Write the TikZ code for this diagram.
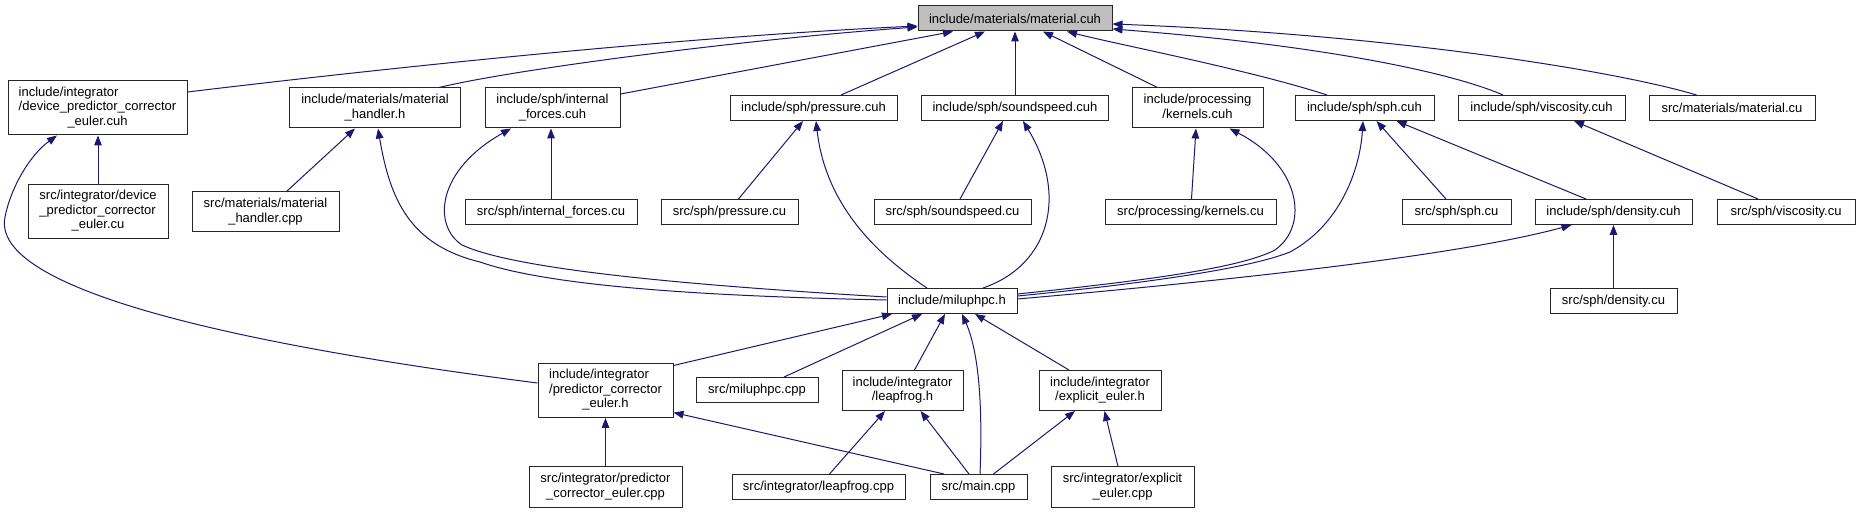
\documentclass[tikz,border=0pt]{standalone}
\usepackage{fontspec}
\setmainfont{Liberation Sans}
\usetikzlibrary{arrows.meta,calc}
\definecolor{edgeblue}{HTML}{191970}
\definecolor{rootfill}{HTML}{BFBFBF}
\newcommand\lbl[2]{\begin{tabular}{@{}l@{}}#1\multicolumn{1}{@{}c@{}}{#2}\end{tabular}}
\tikzset{
  box/.style={draw=black!85, line width=0.5pt, rectangle, inner sep=0pt, fill=white,
    font=\fontsize{6.5pt}{7.25pt}\selectfont},
  rootbox/.style={box, fill=rootfill},
  arr/.style={draw=edgeblue, line width=0.5pt, -{Triangle[length=5pt,width=3.8pt]}},
}
\begin{document}
\begin{tikzpicture}[x=0.5pt, y=-0.5pt]
\useasboundingbox (0,0) rectangle (1860,513);
\fill[white] (0,0) rectangle (1860,513);

% row 0
\node[rootbox, minimum width=97pt, minimum height=12.5pt] (mat) at (1015,18.5) {include/materials/material.cuh};
% row 1
\node[box, minimum width=89.5pt, minimum height=27pt] (dpceh) at (97.5,108) {\lbl{include/integrator\\/device\_predictor\_corrector\\}{\_euler.cuh}};
\node[box, minimum width=85.5pt, minimum height=20pt] (mhh) at (375,108) {\lbl{include/materials/material\\}{\_handler.h}};
\node[box, minimum width=67.5pt, minimum height=20pt] (ifh) at (552.5,108) {\lbl{include/sph/internal\\}{\_forces.cuh}};
\node[box, minimum width=83.5pt, minimum height=12.5pt] (prh) at (813.5,108) {include/sph/pressure.cuh};
\node[box, minimum width=93.5pt, minimum height=12.5pt] (ssh) at (1015,108) {include/sph/soundspeed.cuh};
\node[box, minimum width=65.5pt, minimum height=20pt] (kh) at (1197.5,108) {\lbl{include/processing\\}{/kernels.cuh}};
\node[box, minimum width=69.5pt, minimum height=12.5pt] (sphh) at (1364.5,108) {include/sph/sph.cuh};
\node[box, minimum width=83.5pt, minimum height=12.5pt] (vh) at (1541.5,108) {include/sph/viscosity.cuh};
\node[box, minimum width=83pt, minimum height=12.5pt] (matcu) at (1732,108) {src/materials/material.cu};
% row 2
\node[box, minimum width=70pt, minimum height=27pt] (dpcecu) at (98,211.5) {\lbl{src/integrator/device\\\_predictor\_corrector\\}{\_euler.cu}};
\node[box, minimum width=73.5pt, minimum height=20pt] (mhcpp) at (265.5,212) {\lbl{src/materials/material\\}{\_handler.cpp}};
\node[box, minimum width=86pt, minimum height=12.5pt] (ifcu) at (551,212) {src/sph/internal\_forces.cu};
\node[box, minimum width=68.5pt, minimum height=12.5pt] (prcu) at (729.5,212) {src/sph/pressure.cu};
\node[box, minimum width=78.5pt, minimum height=12.5pt] (sscu) at (952.5,212) {src/sph/soundspeed.cu};
\node[box, minimum width=85.5pt, minimum height=12.5pt] (kcu) at (1190.5,212) {src/processing/kernels.cu};
\node[box, minimum width=54.5pt, minimum height=12.5pt] (sphcu) at (1456.5,212) {src/sph/sph.cu};
\node[box, minimum width=78.5pt, minimum height=12.5pt] (dh) at (1613.5,212) {include/sph/density.cuh};
\node[box, minimum width=69pt, minimum height=12.5pt] (vcu) at (1786,212) {src/sph/viscosity.cu};
% row 3
\node[box, minimum width=65pt, minimum height=12.5pt] (mil) at (952,301) {include/miluphpc.h};
\node[box, minimum width=63.5pt, minimum height=12.5pt] (dcu) at (1613.5,301) {src/sph/density.cu};
% row 4
\node[box, minimum width=67.5pt, minimum height=27pt] (pceh) at (605.5,390.5) {\lbl{include/integrator\\/predictor\_corrector\\}{\_euler.h}};
\node[box, minimum width=61pt, minimum height=12.5pt] (milcpp) at (757,390) {src/miluphpc.cpp};
\node[box, minimum width=60.5pt, minimum height=20pt] (lfh) at (902.5,390.5) {\lbl{include/integrator\\}{/leapfrog.h}};
\node[box, minimum width=61pt, minimum height=20pt] (eeh) at (1100,390.5) {\lbl{include/integrator\\}{/explicit\_euler.h}};
% row 5
\node[box, minimum width=76.5pt, minimum height=20pt] (pcecpp) at (605.5,487) {\lbl{src/integrator/predictor\\}{\_corrector\_euler.cpp}};
\node[box, minimum width=86.5pt, minimum height=12.5pt] (lfcpp) at (818.5,487) {src/integrator/leapfrog.cpp};
\node[box, minimum width=48.5pt, minimum height=12.5pt] (main) at (978.5,487) {src/main.cpp};
\node[box, minimum width=71.5pt, minimum height=20pt] (eecpp) at (1122.5,487) {\lbl{src/integrator/explicit\\}{\_euler.cpp}};

% edges into material.cuh
\draw[arr] ($(dpceh.east)+(0,-16)$) .. controls (420,64) and (700,36) .. ($(mat.west)+(0,7.5)$);
\draw[arr] ($(mhh.north)+(64,0)$) .. controls (520,68) and (760,38) .. ($(mat.west)+(0,8.5)$);
\draw[arr] ($(ifh.east)+(0,-14)$) -- ($(mat.south)+(-62,0)$);
\draw[arr] ($(prh.north)+(27.5,0)$) -- ($(mat.south)+(-30,0)$);
\draw[arr] (ssh.north) -- (mat.south);
\draw[arr] ($(kh.north)+(-40,0)$) -- ($(mat.south)+(28,0)$);
\draw[arr] ($(sphh.north)+(-37.5,0)$) .. controls (1250,70) and (1120,45) .. ($(mat.south)+(52,0)$);
\draw[arr] ($(vh.north)+(-38.5,0)$) .. controls (1450,72) and (1320,45) .. ($(mat.east)+(0,10.5)$);
\draw[arr] ($(matcu.north)+(-35.5,0)$) .. controls (1620,72) and (1400,35) .. ($(mat.east)+(0,5.5)$);

% device predictor corrector
\draw[arr] (dpcecu.north) -- (dpcecu.north |- dpceh.south);
\draw[arr] ($(pceh.west)+(0,-7.5)$) .. controls (240,345) and (-10,290) .. (5,217) .. controls (11,187) and (30,155) .. ($(dpceh.south)+(-40.5,0)$);

% material handler
\draw[arr] ($(mhcpp.north)+(21,0)$) -- ($(mhh.south)+(-20,0)$);
\draw[arr] ($(mil.west)+(0,-1)$) .. controls (750,297) and (560,290) .. (480,262) .. controls (410,245) and (390,200) .. ($(mhh.south)+(3,0)$);

% internal forces
\draw[arr] (ifcu.north) -- (ifcu.north |- ifh.south);
\draw[arr] ($(mil.west)+(0,-4)$) .. controls (720,287) and (520,272) .. (462,245) .. controls (432,225) and (437,170) .. ($(ifh.south)+(-41.5,0)$);

% pressure
\draw[arr] ($(prcu.north)+(9,0)$) -- ($(prh.south)+(-10.5,0)$);
\draw[arr] ($(mil.north)+(-25,0)$) .. controls (870,250) and (825,200) .. ($(prh.south)+(2.5,0)$);

% soundspeed
\draw[arr] ($(sscu.north)+(7.5,0)$) -- ($(ssh.south)+(-12,0)$);
\draw[arr] ($(mil.north)+(31,0)$) .. controls (1050,265) and (1068,195) .. ($(ssh.south)+(8,0)$);

% kernels
\draw[arr] ($(kcu.north)+(1,0)$) -- ($(kh.south)+(-1.5,0)$);
\draw[arr] ($(mil.east)+(0,-7)$) .. controls (1150,280) and (1240,268) .. (1275,250) .. controls (1310,225) and (1300,165) .. ($(kh.south)+(32,0)$);

% sph
\draw[arr] ($(sphcu.north)+(-10.5,0)$) -- ($(sphh.south)+(12,0)$);
\draw[arr] ($(dh.north)+(-27.5,0)$) -- ($(sphh.south)+(32,0)$);
\draw[arr] ($(mil.east)+(0,-5)$) .. controls (1150,283) and (1250,268) .. (1290,252) .. controls (1340,225) and (1360,170) .. ($(sphh.south)+(-1.5,0)$);

% density
\draw[arr] (dcu.north) -- (dcu.north |- dh.south);
\draw[arr] ($(mil.east)+(0,-2)$) .. controls (1200,283) and (1450,258) .. ($(dh.south)+(-42,0)$);

% viscosity
\draw[arr] ($(vcu.north)+(-28,0)$) -- ($(vh.south)+(32.5,0)$);

% into miluphpc.h
\draw[arr] ($(pceh.north east)+(0,2.5)$) -- ($(mil.south)+(-60,0)$);
\draw[arr] ($(milcpp.north)+(27,0)$) -- ($(mil.south)+(-30,0)$);
\draw[arr] ($(lfh.north)+(12,0)$) -- ($(mil.south)+(-7,0)$);
\draw[arr] ($(main.north)+(1.5,0)$) .. controls (983,400) and (978,350) .. ($(mil.south)+(10,0)$);
\draw[arr] ($(eeh.north)+(-31,0)$) -- ($(mil.south)+(23,0)$);

% integrators
\draw[arr] (pcecpp.north) -- (pceh.south);
\draw[arr] ($(main.north)+(-34.5,0)$) -- ($(pceh.east)+(0,22)$);
\draw[arr] ($(lfcpp.north)+(11,0)$) -- ($(lfh.south)+(-17.5,0)$);
\draw[arr] ($(main.north)+(-9.5,0)$) -- ($(lfh.south)+(18,0)$);
\draw[arr] ($(main.north)+(15,0)$) -- ($(eeh.south)+(-25,0)$);
\draw[arr] ($(eecpp.north)+(-4.5,0)$) -- ($(eeh.south)+(4.5,0)$);
\end{tikzpicture}
\end{document}
